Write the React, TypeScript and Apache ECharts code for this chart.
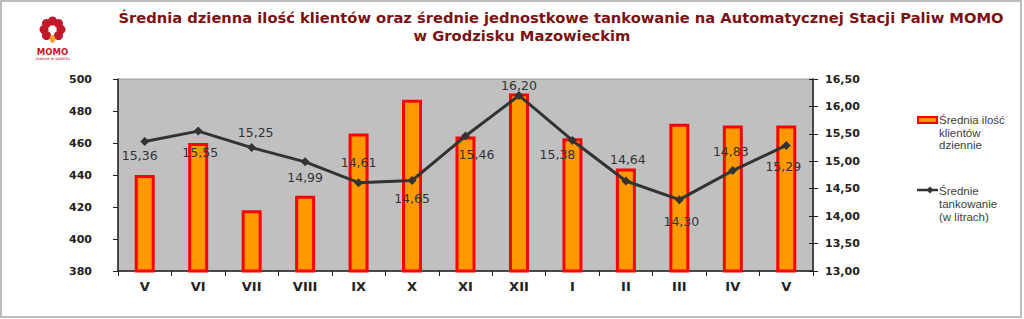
import React, { useEffect, useRef } from "react";
import * as echarts from "echarts";

const categories = ["V", "VI", "VII", "VIII", "IX", "X", "XI", "XII", "I", "II", "III", "IV", "V"];
const clientsPerDay = [440, 460, 418, 427, 466, 487, 464, 491, 463, 444, 472, 471, 471];
const avgRefuel = [15.36, 15.55, 15.25, 14.99, 14.61, 14.65, 15.46, 16.2, 15.38, 14.64, 14.3, 14.83, 15.29];
const leftTicks = { min: 380, max: 500, interval: 20 };
const rightTicks = { min: 13, max: 16.5, interval: 0.5 };
const seriesNames = ["Średnia ilość\nklientów\ndziennie", "Średnie\ntankowanie\n(w litrach)"];
const titleLines = [
  "Średnia dzienna ilość klientów oraz średnie jednostkowe tankowanie na Automatycznej Stacji Paliw MOMO",
  "w Grodzisku Mazowieckim",
];
// label offsets (dx, dy) relative to each point
const labelOffsets: [number, number][] = [
  [-5, 14], [2, 21], [4, -15], [0, 16], [0, -20], [0, 18], [11, 18],
  [0, -10], [-15, 14], [2, -22], [2, 22], [-2, -19], [-3, 21],
];

const fmt = (v: number) => v.toFixed(2).replace(".", ",");

export default function App() {
  const ref = useRef<HTMLDivElement>(null);
  useEffect(() => {
    if (!ref.current) return;
    const chart = echarts.init(ref.current, null, { renderer: "svg" });
    const red = "#C0182A";
    const petals: any[] = [];
    const cx = 52.5, cy = 29.5;
    for (let i = 0; i < 8; i++) {
      const a = (i * Math.PI) / 4 - Math.PI / 2;
      if (i === 4) continue;
      petals.push({
        type: "circle",
        shape: { cx: cx + Math.cos(a) * 8.5, cy: cy + Math.sin(a) * 8.5, r: 4.5 },
        style: { fill: red },
      });
    }
    petals.push({ type: "ellipse", shape: { cx: cx, cy: cy + 9.5, rx: 2.8, ry: 4 }, style: { fill: "#F5A623" } });
    const axisFont = { fontFamily: "DejaVu Sans", fontSize: 11, fontWeight: "bold", color: "#222" };
    const titleFont = {
      fontFamily: "DejaVu Sans",
      fontSize: 14.7,
      fontWeight: "bold",
      color: "#7A1212",
    };
    chart.setOption({
      animation: false,
      title: [
        { text: titleLines[0], left: 561, top: 10, textAlign: "center", padding: 0, textStyle: titleFont },
        { text: titleLines[1], left: 522, top: 28, textAlign: "center", padding: 0, textStyle: titleFont },
      ],
      grid: {
        left: 118,
        right: 211,
        top: 79,
        bottom: 48,
        show: true,
        backgroundColor: "#C0C0C0",
        borderColor: "#9a9a9a",
        borderWidth: 1,
      },
      xAxis: {
        type: "category",
        data: categories,
        axisLine: { lineStyle: { color: "#222", width: 1.5 } },
        axisTick: { show: true, length: 5, lineStyle: { color: "#222" } },
        axisLabel: {
          fontFamily: "DejaVu Sans",
          fontSize: 13,
          fontWeight: "bold",
          color: "#222",
          margin: 9,
        },
      },
      yAxis: [
        {
          type: "value",
          ...leftTicks,
          position: "left",
          splitLine: { show: false },
          axisLine: { show: true, lineStyle: { color: "#222", width: 1.5 } },
          axisTick: { show: true, length: 5, lineStyle: { color: "#222" } },
          axisLabel: { ...axisFont, margin: 26 },
        },
        {
          type: "value",
          ...rightTicks,
          position: "right",
          splitLine: { show: false },
          axisLine: { show: true, lineStyle: { color: "#222", width: 1.5 } },
          axisTick: { show: true, length: 5, lineStyle: { color: "#222" } },
          axisLabel: { ...axisFont, margin: 12, formatter: (v: number) => fmt(v) },
        },
        {
          type: "value",
          ...rightTicks,
          position: "right",
          splitLine: { show: false },
          axisLine: { show: false },
          axisTick: { show: true, inside: true, length: 4, lineStyle: { color: "#222" } },
          axisLabel: { show: false },
        },
      ],
      series: [
        {
          name: seriesNames[0],
          type: "bar",
          yAxisIndex: 0,
          data: clientsPerDay,
          barWidth: 20,
          itemStyle: { color: "#FF9900", borderColor: "#FF0000", borderWidth: 3 },
        },
        {
          name: seriesNames[1],
          type: "line",
          yAxisIndex: 1,
          data: avgRefuel.map((v, i) => ({
            value: v,
            label: { offset: labelOffsets[i] },
          })),
          symbol: "diamond",
          symbolSize: 9,
          lineStyle: { color: "#333", width: 3 },
          itemStyle: { color: "#333" },
          label: {
            show: true,
            position: "inside",
            formatter: (p: any) => fmt(p.value),
            fontFamily: "DejaVu Sans",
            fontSize: 12.5,
            color: "#333",
          },
          z: 5,
        },
      ],
      graphic: [
        {
          type: "rect",
          shape: { x: 1, y: 1, width: 1020, height: 316 },
          style: { fill: "none", stroke: "#BDBDBD", lineWidth: 2 },
          silent: true,
        },
        ...petals,
        {
          type: "text",
          x: 52.5,
          y: 52,
          style: {
            text: "MOMO",
            fill: red,
            font: "bold 8.5px 'DejaVu Sans'",
            textAlign: "center",
            textVerticalAlign: "middle",
          },
        },
        {
          type: "text",
          x: 52.5,
          y: 58.5,
          style: {
            text: "zawsze w pobliżu",
            fill: red,
            font: "4px 'DejaVu Sans'",
            textAlign: "center",
            textVerticalAlign: "middle",
          },
        },
        // legend item 1
        {
          type: "rect",
          shape: { x: 918, y: 117, width: 19, height: 6 },
          style: { fill: "#FF9900", stroke: "#FF0000", lineWidth: 2 },
        },
        {
          type: "text",
          x: 939,
          y: 114,
          style: {
            text: seriesNames[0],
            fill: "#404040",
            font: "11.5px 'Liberation Sans'",
            lineHeight: 12.5,
          },
        },
        // legend item 2
        {
          type: "line",
          shape: { x1: 917, y1: 190, x2: 938, y2: 190 },
          style: { stroke: "#333", lineWidth: 2.5 },
        },
        {
          type: "polygon",
          shape: { points: [[930, 186.5], [933.5, 190], [930, 193.5], [926.5, 190]] },
          style: { fill: "#333" },
        },
        {
          type: "text",
          x: 939,
          y: 184,
          style: {
            text: seriesNames[1],
            fill: "#404040",
            font: "11.5px 'Liberation Sans'",
            lineHeight: 13,
          },
        },
      ],
    });
    return () => chart.dispose();
  }, []);
  return (
    <div
      ref={ref}
      style={{ position: "fixed", left: 0, top: 0, width: 1024, height: 319, background: "#fff" }}
    />
  );
}
